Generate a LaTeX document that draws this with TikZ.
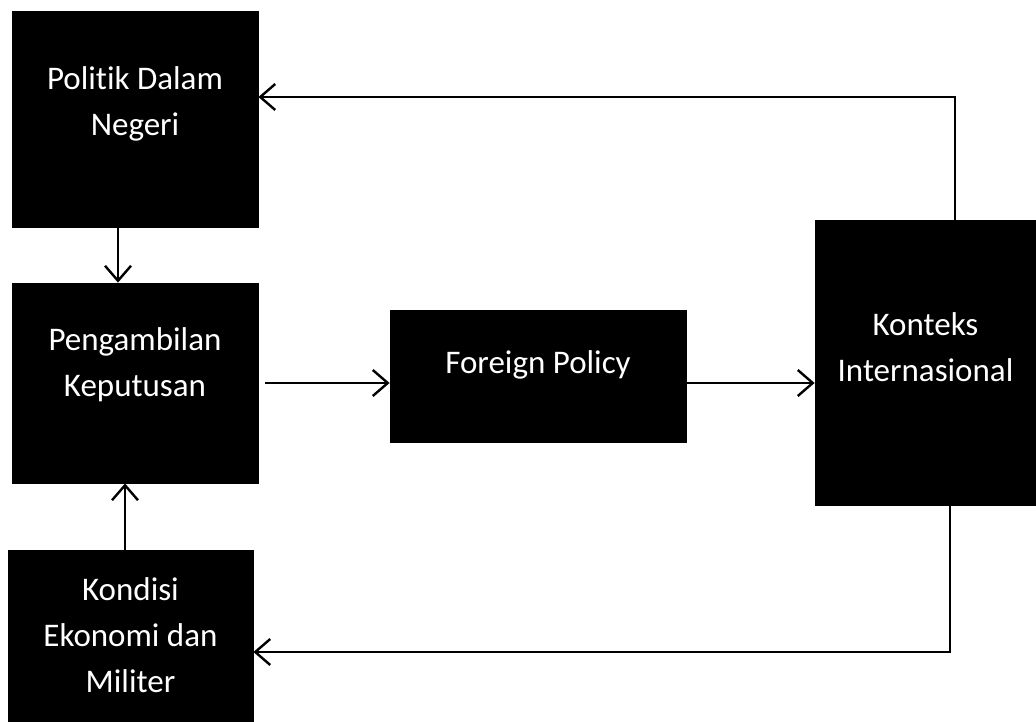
\documentclass[tikz,border=0pt]{standalone}
\usepackage{fontspec}
\setmainfont{Carlito}[Ligatures=NoCommon]
\usetikzlibrary{calc, arrows.meta}
\tikzset{>={Straight Barb[length=7.5pt, width=13pt, line width=1.2pt]}}
\tikzset{
  kotak/.style={fill=black, draw=black, inner sep=0pt},
  teks/.style={text=white, align=center, font=\fontsize{16.5}{23}\selectfont},
  panah/.style={->, line width=1.2pt}
}

\begin{document}
\begin{tikzpicture}[x=0.5pt, y=-0.5pt]
\useasboundingbox (0,0) rectangle (1036,721);
% kotak
\node[kotak, minimum width=123pt, minimum height=108pt] (politik) at (135,119) {};
\node[kotak, minimum width=123pt, minimum height=100pt] (keputusan) at (135,383) {};
\node[kotak, minimum width=122.5pt, minimum height=85.5pt] (kondisi) at (130.5,635.5) {};
\node[kotak, minimum width=148pt, minimum height=66pt] (foreign) at (538,376) {};
\node[kotak, minimum width=110.5pt, minimum height=142.5pt] (konteks) at (925.5,362.5) {};
% teks
\node[teks] (politikT) at ([yshift=7.5pt]politik.center) {Politik Dalam\\Negeri};
\node[teks] (keputusanT) at ([yshift=9pt]keputusan.center) {Pengambilan\\Keputusan};
\node[teks] (kondisiT) at ([yshift=0pt]kondisi.center) {Kondisi\\Ekonomi dan\\Militer};
\node[teks] (foreignT) at ([yshift=5.5pt]foreign.center) {Foreign Policy};
\node[teks] (kontekT) at ([yshift=7.5pt]konteks.center) {Konteks\\Internasional};
% panah
\draw[panah] ([xshift=-8.5pt]politik.south) -- ([xshift=-8.5pt]keputusan.north);
\draw[panah] ([xshift=-2.75pt]kondisi.north) -- ([xshift=-2.75pt]kondisi.north |- keputusan.south);
\draw[panah] ([xshift=3.5pt]keputusan.east) -- (keputusan.east -| foreign.west);
\draw[panah] (foreign.east |- keputusan.east) -- (konteks.west |- keputusan.east);
\draw[panah] ([xshift=14.75pt]konteks.north) |- ([yshift=11pt]politik.east);
\draw[panah] ([xshift=12.25pt]konteks.south) |- ([yshift=-8.25pt]kondisi.east);
\end{tikzpicture}
\end{document}
